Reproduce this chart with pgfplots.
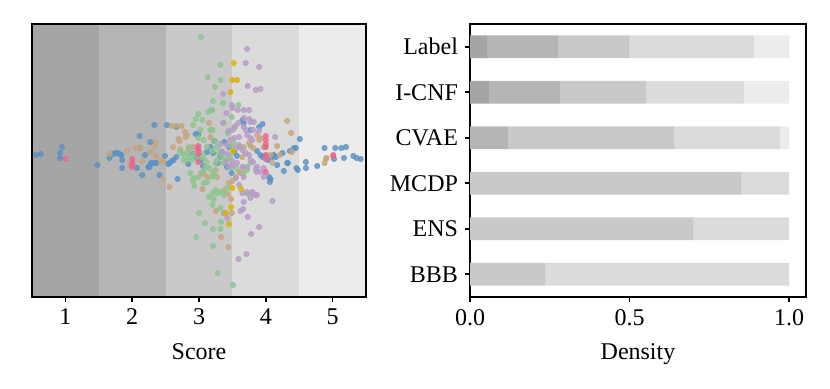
\documentclass[border=0pt]{standalone}
\usepackage{fontspec}
\setmainfont{Liberation Serif}
\usepackage{pgfplots}
\pgfplotsset{compat=1.18}

\definecolor{s1}{HTML}{A5A5A5}
\definecolor{s2}{HTML}{B5B5B5}
\definecolor{s3}{HTML}{C9C9C9}
\definecolor{s4}{HTML}{DBDBDB}
\definecolor{s5}{HTML}{ECECEC}
\definecolor{cblue}{HTML}{5A92C4}
\definecolor{ctan}{HTML}{C6A47E}
\definecolor{cgreen}{HTML}{8CC68E}
\definecolor{cpurple}{HTML}{B89BC8}
\definecolor{cyellow}{HTML}{D8B400}
\definecolor{cpink}{HTML}{E8688E}

\pgfplotsset{
  common/.style={scale only axis, height=136.5pt, axis line style={black, line width=0.8pt},
    font=\fontsize{12}{14}\selectfont, tick style={black, line width=0.8pt},
    major tick length=2.5pt, tick align=outside, tick pos=left,
    /pgf/number format/assume math mode=true,
    xlabel style={at={(axis description cs:0.5,0)}, anchor=north, yshift=-20pt}},
  dots/.style={only marks, mark=*, mark size=1.3pt, color=#1, opacity=0.8}
}

\begin{document}
\begin{tikzpicture}
\useasboundingbox (-16pt,-45.5pt) rectangle (399pt,148.5pt);
% swarm of scores
\begin{axis}[common, width=167pt, xmin=0.5, xmax=5.5, ymin=-137, ymax=136,
  xtick={1,2,3,4,5}, ytick=\empty, xlabel={Score}, axis on top]
\fill[s1] (axis cs:0.5,-137) rectangle (axis cs:1.5,136);
\fill[s2] (axis cs:1.5,-137) rectangle (axis cs:2.5,136);
\fill[s3] (axis cs:2.5,-137) rectangle (axis cs:3.5,136);
\fill[s4] (axis cs:3.5,-137) rectangle (axis cs:4.5,136);
\fill[s5] (axis cs:4.5,-137) rectangle (axis cs:5.5,136);
\addplot[dots=cblue] coordinates {
(0.56,5) (0.63,6) (0.95,13) (0.92,7) (0.92,2) (1.48,-5) (1.66,2) (1.71,6) (1.75,7) (1.78,7)
(1.81,6) (1.84,5) (1.85,0) (1.85,-8) (2.07,-8) (2.15,-15) (2.11,24) (2.11,12) (2.19,5) (2.24,-7)
(2.26,-7) (2.28,-3) (2.31,-3) (2.35,-3) (2.36,-3) (2.27,18) (2.33,35) (2.41,-15) (2.49,4) (2.52,35)
(2.54,-4) (2.56,-3) (2.59,-1) (2.62,0) (2.66,3) (2.66,33) (2.68,-19) (2.84,-4) (2.91,6) (2.95,26)
(2.99,26) (2.96,3) (3.03,0) (3.06,-6) (3.12,8) (3.17,13) (3.21,7) (3.23,19) (3.28,-3) (3.32,3)
(3.34,8) (3.38,18) (3.42,-7) (3.45,13) (3.49,-13) (3.53,8) (3.57,4) (3.61,13) (3.65,40) (3.67,37)
(3.77,30) (3.90,33) (3.95,36) (3.87,9) (3.92,5) (3.95,3) (4.01,4) (4.03,0) (4.05,-17) (4.06,-22)
(4.07,-19) (4.10,3) (4.12,5) (4.15,3) (4.17,-5) (4.25,7) (4.27,-11) (4.32,-3) (4.33,-3) (4.36,9)
(4.42,12) (4.45,12) (4.46,-8) (4.48,-10) (4.51,21) (4.60,-2) (4.60,-8) (4.77,-6) (4.88,12) (5.02,1)
(5.04,12) (5.13,12) (5.20,13) (5.17,2) (5.31,4) (5.36,2) (5.42,1)
};
\addplot[dots=ctan] coordinates {
(1.66,6) (1.92,9) (1.97,-5) (2.00,-2) (2.05,12) (2.12,12) (2.15,-1) (2.27,8) (2.33,13) (2.35,18)
(2.36,4) (2.43,-1) (2.46,-19) (2.47,-1) (2.56,-27) (2.59,34) (2.66,34) (2.74,34) (2.69,21) (2.71,19)
(2.61,13) (2.72,11) (2.79,28) (2.82,25) (2.80,23) (2.85,11) (2.91,13) (2.97,11) (2.97,5) (3.03,-13)
(3.05,-29) (3.07,-14) (3.13,-17) (3.15,37) (3.20,30) (3.17,23) (3.25,-10) (3.27,-17) (3.33,-77) (3.25,-51)
(3.36,-31) (3.44,-87) (3.45,-23) (3.49,-53) (3.50,-21) (3.55,-17) (3.60,-12) (3.62,-13) (3.65,3) (3.67,13)
(3.75,17) (3.77,14) (3.81,12) (3.87,25) (3.90,20) (3.92,22) (3.97,13) (3.99,13) (4.07,5) (4.10,-3)
(4.17,14) (4.21,5) (4.32,39) (4.38,27) (4.39,8) (4.88,-3) (4.90,1) (4.91,2) (3.43,-34) (3.48,-39)
};
\addplot[dots=cgreen] coordinates {
(3.03,123) (3.32,95) (3.13,83) (3.32,80) (3.24,73) (3.21,59) (3.36,57) (3.18,50) (3.20,50) (3.14,48)
(2.99,46) (2.95,41) (3.05,40) (2.91,35) (3.02,30) (3.17,30) (3.20,30) (2.99,22) (3.07,20) (3.24,19)
(3.37,37) (3.43,27) (3.49,43) (3.53,32) (3.59,55) (3.60,13) (2.85,13) (2.82,7) (2.76,6) (2.71,8)
(2.85,3) (2.89,0) (2.92,5) (2.99,0) (3.05,6) (3.07,2) (3.11,-2) (3.10,-7) (3.15,-8) (3.20,-12)
(3.25,-3) (3.27,0) (3.30,7) (3.35,3) (3.37,-3) (3.42,0) (3.47,3) (3.49,13) (3.52,17) (3.27,13)
(3.20,9) (3.12,13) (3.06,-12) (2.99,-17) (2.92,-18) (2.91,-21) (2.93,-26) (3.07,-23) (3.12,-22) (3.20,-17)
(3.25,-30) (3.20,-33) (3.15,-37) (3.22,-39) (3.27,-33) (3.33,-32) (3.37,-35) (3.42,-28) (3.20,-45) (3.32,-48)
(3.37,-53) (3.00,-53) (3.09,-63) (3.21,-69) (3.33,-62) (3.32,-69) (2.96,-77) (3.21,-86) (3.28,-113) (3.51,-125)
(3.67,-13) (3.72,-10) (3.73,-34) (3.77,-3) (3.67,-7) (3.56,-8) (3.50,-7) (3.80,-33) (2.87,-13) (2.82,0)
(2.77,0) (2.75,7) (3.23,-15)
};
\addplot[dots=cpurple] coordinates {
(3.72,111) (3.70,97) (3.90,93) (3.73,74) (3.92,71) (3.85,70) (3.36,66) (3.49,55) (3.50,52) (3.41,47)
(3.58,50) (3.67,50) (3.75,50) (3.36,37) (3.44,29) (3.50,30) (3.54,34) (3.59,37) (3.67,42) (3.75,41)
(3.77,38) (3.82,38) (3.67,33) (3.70,30) (3.81,30) (3.90,29) (3.72,25) (3.77,22) (3.80,20) (3.60,23)
(3.53,22) (3.47,20) (3.42,15) (3.55,12) (3.60,15) (3.65,10) (3.70,7) (3.75,5) (3.77,0) (3.81,-2)
(3.87,-7) (3.72,-7) (3.65,-7) (3.57,-3) (3.50,-5) (3.45,-7) (3.40,-2) (3.35,8) (3.32,16) (3.43,6)
(3.50,-1) (3.55,-18) (3.60,-25) (3.65,-33) (3.67,-42) (3.72,-32) (3.80,-32) (3.84,-35) (3.87,-35) (3.77,-38)
(4.10,-41) (4.14,23) (3.86,-12) (3.85,-9) (3.62,-51) (3.66,-49) (3.73,-57) (3.42,-58) (3.38,-53) (3.90,-67)
(3.78,-74) (3.71,-94) (3.59,-99) (3.67,-17) (3.92,-12) (3.97,-8) (3.97,-17)
};
\addplot[dots=cyellow] coordinates {
(3.52,97) (3.50,80) (3.57,80) (3.47,68) (3.51,9) (3.50,-28) (3.63,-29) (3.48,-47) (3.40,-53) (3.45,-64)
};
\addplot[dots=cpink] coordinates {
(1.00,1) (2.00,1) (2.00,-2) (2.00,-5) (2.00,-7) (2.99,14) (2.99,12) (2.99,9) (2.99,6) (2.99,-2)
(4.00,24) (4.00,20) (4.00,16) (4.00,13) (4.00,5) (4.00,1) (4.00,-12) (5.01,5) (5.01,4)
};
\end{axis}
% stacked density of scores per method
\begin{axis}[common, at={(219pt,0pt)}, width=168pt, xbar stacked, bar width=0.5,
  xmin=0, xmax=1.053, ymin=-0.5, ymax=5.5, xtick={0,0.5,1}, xticklabels={0.0,0.5,1.0},
  ytick={0,1,2,3,4,5}, yticklabels={BBB,ENS,MCDP,CVAE,I-CNF,Label}, xlabel={Density}]
\addplot[fill=s1, draw=none] coordinates {(0,0) (0,1) (0,2) (0,3) (0.059,4) (0.054,5)};
\addplot[fill=s2, draw=none] coordinates {(0,0) (0,1) (0,2) (0.119,3) (0.225,4) (0.222,5)};
\addplot[fill=s3, draw=none] coordinates {(0.237,0) (0.699,1) (0.851,2) (0.521,3) (0.267,4) (0.224,5)};
\addplot[fill=s4, draw=none] coordinates {(0.763,0) (0.301,1) (0.149,2) (0.331,3) (0.307,4) (0.390,5)};
\addplot[fill=s5, draw=none] coordinates {(0,0) (0,1) (0,2) (0.029,3) (0.142,4) (0.110,5)};
\end{axis}
\end{tikzpicture}
\end{document}
